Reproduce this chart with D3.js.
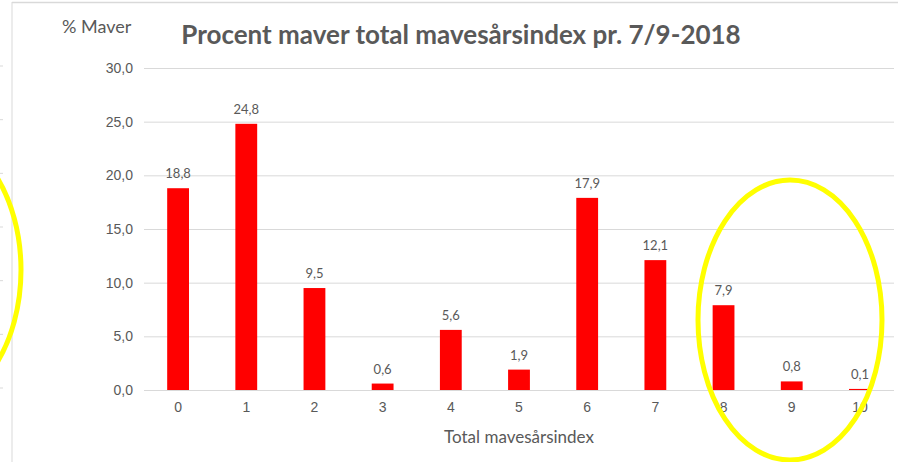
<!DOCTYPE html>
<html>
<head>
<meta charset="utf-8">
<script src="https://cdn.jsdelivr.net/npm/d3@7"></script>
<style>
  body { margin: 0; background: #fff; }
  svg { display: block; font-family: Lato, "Open Sans", sans-serif; }
</style>
</head>
<body>
<svg></svg>
<script>
// data
const categories = ["0", "1", "2", "3", "4", "5", "6", "7", "8", "9", "10"]
const values = [18.8, 24.8, 9.5, 0.6, 5.6, 1.9, 17.9, 12.1, 7.9, 0.8, 0.1]
const yTicks = [0, 5, 10, 15, 20, 25, 30]

const titleText = "Procent maver total mavesårsindex pr. 7/9-2018"
const yTitle = "% Maver"
const xTitle = "Total mavesårsindex"

const svg = d3.select("svg")
    .attr("width", 898)
    .attr("height", 462)

const textColor = "#595959"
const gridColor = "#d9d9d9"
const fmt = v => d3.format(".1f")(v).replace(".", ",")

const scaleX = d3.scaleBand()
    .domain(categories)
    .range([144, 894])
    .paddingInner(0.68)
    .paddingOuter(0.34)

const scaleY = d3.scaleLinear()
    .domain([0, 30])
    .range([390, 68])

// frame bits from the screenshot around the chart
svg.append("line")
    .attr("x1", 12).attr("x2", 898)
    .attr("y1", 2.5).attr("y2", 2.5)
    .attr("stroke", gridColor).attr("stroke-width", 1.5)

svg.append("line")
    .attr("x1", 12).attr("x2", 12)
    .attr("y1", 2).attr("y2", 462)
    .attr("stroke", gridColor).attr("stroke-width", 1)

svg.selectAll("line.edge")
    .data(yTicks)
    .enter()
    .append("line")
    .attr("class", "edge")
    .attr("x1", 0).attr("x2", 3)
    .attr("y1", d => scaleY(d) - 2).attr("y2", d => scaleY(d) - 2)
    .attr("stroke", gridColor)

// gridlines + y labels
const yAxis = svg.append("g")
    .attr("transform", "translate(144,0)")
    .call(d3.axisLeft(scaleY).tickValues(yTicks).tickFormat(fmt).tickSize(-750).tickPadding(11))

yAxis.select(".domain").remove()
yAxis.selectAll(".tick line").attr("stroke", gridColor)
yAxis.selectAll(".tick text")
    .attr("fill", textColor)
    .style("font-size", "14px")

// x labels
const xAxis = svg.append("g")
    .attr("transform", "translate(0,390)")
    .call(d3.axisBottom(scaleX).tickSize(0).tickPadding(12))

xAxis.select(".domain").remove()
xAxis.selectAll(".tick text")
    .attr("fill", textColor)
    .style("font-size", "14px")

// bars
svg.selectAll("rect.bar")
    .data(values)
    .enter()
    .append("rect")
    .attr("class", "bar")
    .attr("x", (d, i) => scaleX(categories[i]))
    .attr("y", d => scaleY(d))
    .attr("width", scaleX.bandwidth())
    .attr("height", d => scaleY(0) - scaleY(d))
    .attr("fill", "#ff0000")

svg.selectAll("text.lbl")
    .data(values)
    .enter()
    .append("text")
    .attr("class", "lbl")
    .attr("x", (d, i) => scaleX(categories[i]) + scaleX.bandwidth() / 2)
    .attr("y", d => scaleY(d) - 10)
    .attr("text-anchor", "middle")
    .attr("fill", textColor)
    .style("font-size", "13px")
    .text(d => fmt(d))

// titles
svg.append("text")
    .attr("x", 461).attr("y", 44)
    .attr("text-anchor", "middle")
    .attr("fill", textColor)
    .style("font-size", "26px")
    .style("font-weight", "bold")
    .text(titleText)

svg.append("text")
    .attr("x", 62).attr("y", 33)
    .attr("fill", textColor)
    .style("font-size", "18px")
    .text(yTitle)

svg.append("text")
    .attr("x", 519).attr("y", 443)
    .attr("text-anchor", "middle")
    .attr("fill", textColor)
    .style("font-size", "17px")
    .text(xTitle)

// yellow highlight ellipses drawn on top of the screenshot
svg.selectAll("ellipse.mark")
    .data([{cx: 790, cy: 320, rx: 92, ry: 140}, {cx: -75, cy: 270, rx: 96, ry: 140}])
    .enter()
    .append("ellipse")
    .attr("class", "mark")
    .attr("cx", d => d.cx).attr("cy", d => d.cy)
    .attr("rx", d => d.rx).attr("ry", d => d.ry)
    .attr("fill", "none")
    .attr("stroke", "#ffff00")
    .attr("stroke-width", 5)
</script>
</body>
</html>
